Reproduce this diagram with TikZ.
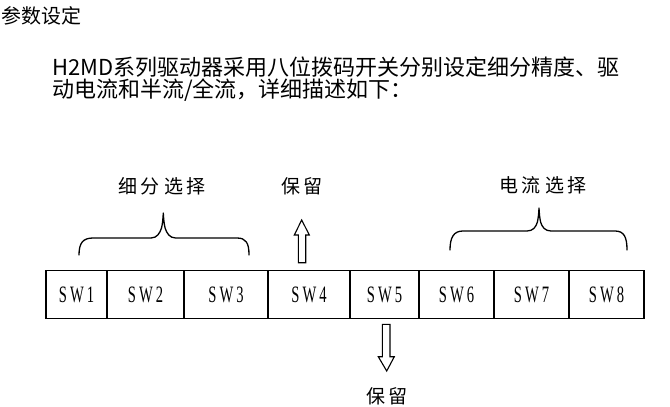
\documentclass[tikz,border=0pt]{standalone}
\usepackage{fontspec}
\newfontfamily\cjk{Noto Sans CJK SC}
\newfontfamily\swfont[FakeStretch=0.62]{Liberation Serif}
\newcommand\swlbl[1]{S\hspace{3pt}W\hspace{3pt}#1}
\newcommand\gp{\hspace{4pt}}
\tikzset{
  swbox/.style={draw, line width=1.2pt, rectangle, inner sep=0pt, minimum height=48pt,
    font=\swfont\fontsize{23.5}{23.5}\selectfont},
  lbl/.style={inner sep=0pt, font=\cjk\fontsize{19}{19}\selectfont},
  hdr/.style={inner sep=0pt, anchor=base west},
  brace/.style={line width=1.3pt, line cap=round, line join=round},
  hollow/.style={line width=1.1pt, line join=miter}
}
\begin{document}
\begin{tikzpicture}[x=1pt,y=-1pt]
\useasboundingbox[fill=white] (0,0) rectangle (670,407);
% header texts
\node[hdr, font=\cjk\fontsize{20}{20}\selectfont] (title) at (1,23.6) {参数设定};
\node[hdr, font=\cjk\fontsize{22}{22}\selectfont] (line1) at (52,75) {H2MD系列驱动器采用八位拨码开关分别设定细分精度、驱};
\node[hdr, font=\cjk\fontsize{22}{22}\selectfont] (line2) at (52,97.4) {动电流和半流/全流，详细描述如下：};
% switch boxes
\node[swbox, minimum width=61pt] (sw1) at (76.5,294.5) {\swlbl{1}};
\node[swbox, minimum width=77pt] (sw2) at (145.5,294.5) {\swlbl{2}};
\node[swbox, minimum width=84pt] (sw3) at (226,294.5) {\swlbl{3}};
\node[swbox, minimum width=82pt] (sw4) at (309,294.5) {\swlbl{4}};
\node[swbox, minimum width=69pt] (sw5) at (384.5,294.5) {\swlbl{5}};
\node[swbox, minimum width=75pt] (sw6) at (456.5,294.5) {\swlbl{6}};
\node[swbox, minimum width=75pt] (sw7) at (531.5,294.5) {\swlbl{7}};
\node[swbox, minimum width=75pt] (sw8) at (606.5,294.5) {\swlbl{8}};
% labels
\node[lbl] (xifen) at (162,186.5) {细\gp 分\gp 选\gp 择};
\node[lbl] (baoliu1) at (302,186) {保\gp 留};
\node[lbl] (dianliu) at (543,185) {电\gp 流\gp 选\gp 择};
\node[lbl] (baoliu2) at (387,396.5) {保\gp 留};
% braces
\draw[brace] (79,255) .. controls (79,243) and (83,238) .. (93,238) -- (151,238)
  .. controls (157,238) and (160,233) .. (161.5,228) .. controls (162.5,224) and (163,219) .. (163.3,213)
  .. controls (163.6,219) and (164.1,224) .. (165.1,228) .. controls (166.6,233) and (169.6,238) .. (175.6,238)
  -- (237,238) .. controls (246,238) and (249,243) .. (249,255);
\draw[brace] (450,250) .. controls (450,237) and (454,231) .. (463,231) -- (527,231)
  .. controls (533,231) and (536,227) .. (537.4,222) .. controls (538.3,218) and (538.8,213) .. (539,208)
  .. controls (539.2,213) and (539.7,218) .. (540.6,222) .. controls (542,227) and (545,231) .. (551,231)
  -- (615,231) .. controls (624,231) and (627,237) .. (627,250);
% hollow arrows
\draw[hollow] (301.7,220) -- (309.3,235) -- (305.7,235) -- (305.7,262.7) -- (298.3,262.7)
  -- (298.3,235) -- (294.3,235) -- cycle;
\draw[hollow] (386.7,371) -- (394.3,356.7) -- (390,356.7) -- (390,324.3) -- (382.3,324.3)
  -- (382.3,356.7) -- (378.3,356.7) -- cycle;
\end{tikzpicture}
\end{document}
